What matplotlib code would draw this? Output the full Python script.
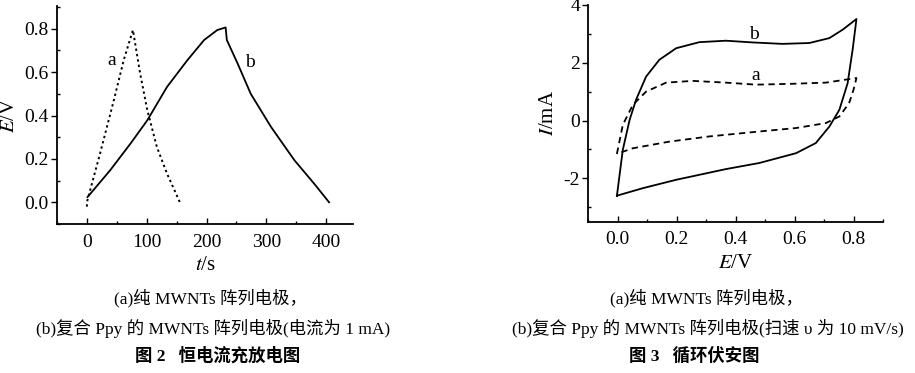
import matplotlib
matplotlib.use("Agg")
import matplotlib.pyplot as plt
from matplotlib.ticker import MultipleLocator

plt.rcParams['font.family'] = ['Liberation Serif', 'Noto Sans CJK SC']
plt.rcParams['mathtext.fontset'] = 'stix'
plt.rcParams['axes.unicode_minus'] = False

# ===== 图2 恒电流充放电 =====
t_a = [0, 0, 22, 45, 61.5, 77, 89, 101, 117, 134, 155.5]
e_a = [-0.02, 0.0, 0.225, 0.47, 0.655, 0.794, 0.594, 0.425, 0.255, 0.132, 0.0]
t_b = [1, 39, 73, 101, 134, 168, 196, 218, 232, 234, 252, 274, 308, 347, 380, 405]
e_b = [0.024, 0.148, 0.271, 0.378, 0.532, 0.655, 0.748, 0.794, 0.806, 0.748, 0.64, 0.50, 0.347, 0.194, 0.086, 0.0]

# ===== 图3 循环伏安 =====
v_b = [-0.003, 0.017, 0.04, 0.062, 0.096, 0.141, 0.198, 0.277, 0.367, 0.458, 0.559, 0.65, 0.718, 0.763, 0.81,
       0.797, 0.78, 0.752, 0.718, 0.672, 0.605, 0.48, 0.367, 0.198, 0.085, -0.003]
i_b = [-2.6, -1.01, 0.02, 0.72, 1.52, 2.10, 2.50, 2.71, 2.76, 2.70, 2.65, 2.68, 2.85, 3.14, 3.51,
       2.45, 1.29, 0.37, -0.21, -0.78, -1.13, -1.47, -1.68, -2.05, -2.34, -2.6]
v_a = [-0.003, 0.017, 0.051, 0.096, 0.164, 0.254, 0.367, 0.469, 0.593, 0.706, 0.81,
       0.80, 0.785, 0.752, 0.706, 0.605, 0.48, 0.311, 0.175, 0.051, -0.003]
i_a = [-1.15, -0.15, 0.54, 1.0, 1.31, 1.37, 1.31, 1.24, 1.27, 1.31, 1.47,
       1.06, 0.60, 0.14, -0.09, -0.26, -0.38, -0.55, -0.73, -0.96, -1.15]

captions_left = ["(a)纯 MWNTs 阵列电极，", "(b)复合 Ppy 的 MWNTs 阵列电极(电流为 1 mA)", "图 2   恒电流充放电图"]
captions_right = ["(a)纯 MWNTs 阵列电极，", "(b)复合 Ppy 的 MWNTs 阵列电极(扫速 υ 为 10 mV/s)", "图 3   循环伏安图"]

fig = plt.figure(figsize=(9.15, 3.73), dpi=100)
ax1 = fig.add_axes([0.0623, 0.3995, 0.3235, 0.5845])
ax2 = fig.add_axes([0.643, 0.4056, 0.322, 0.5814])


def style_axes(ax):
    for s in ['top', 'right']:
        ax.spines[s].set_visible(False)
    for s in ['left', 'bottom']:
        ax.spines[s].set_linewidth(1.3)
    ax.tick_params(axis='y', which='major', direction='out', length=4, width=1, labelsize=14, pad=2)
    ax.tick_params(axis='y', which='minor', direction='in', length=2.5, width=1)
    ax.tick_params(axis='x', which='major', direction='in', length=4, width=1, labelsize=14, pad=7)
    ax.tick_params(axis='x', which='minor', direction='in', length=2.5, width=1)


ax1.plot(t_a, e_a, color='black', linestyle=(0, (1.2, 1.6)), linewidth=1.4)
ax1.plot(t_b, e_b, color='black', linewidth=1.3)
ax1.text(42, 0.655, "a", fontsize=14, ha='center', va='center')
ax1.text(273, 0.643, "b", fontsize=14, ha='center', va='center')
ax1.set_xlim(-50, 445)
ax1.set_ylim(-0.1, 0.905)
ax1.xaxis.set_major_locator(MultipleLocator(100))
ax1.xaxis.set_minor_locator(MultipleLocator(50))
ax1.yaxis.set_major_locator(MultipleLocator(0.2))
ax1.yaxis.set_minor_locator(MultipleLocator(0.1))
ax1.set_xlabel("$t$/s", fontsize=15)
ax1.set_ylabel("$E$/V", fontsize=15)
style_axes(ax1)

ax2.plot(v_a, i_a, color='black', linestyle=(0, (3.5, 2.5)), linewidth=1.3)
ax2.plot(v_b, i_b, color='black', linewidth=1.3)
ax2.text(0.463, 2.97, "b", fontsize=14, ha='center', va='center')
ax2.text(0.469, 1.55, "a", fontsize=14, ha='center', va='center')
ax2.set_xlim(-0.1, 0.9)
ax2.set_ylim(-3.5, 4)
ax2.xaxis.set_major_locator(MultipleLocator(0.2))
ax2.xaxis.set_minor_locator(MultipleLocator(0.1))
ax2.yaxis.set_major_locator(MultipleLocator(2))
ax2.yaxis.set_minor_locator(MultipleLocator(1))
ax2.set_xlabel("$E$/V", fontsize=15)
ax2.set_ylabel("$I$/mA", fontsize=15)
style_axes(ax2)

# ===== 图注 =====
ys = [298, 328, 356]
xl = [210, 213, 218]
xr = [706, 708, 694]
for k, (cl, cr) in enumerate(zip(captions_left, captions_right)):
    w = 'bold' if k == 2 else 'normal'
    fig.text(xl[k] / 915, 1 - ys[k] / 373, cl, ha='center', va='center', fontsize=12.5, fontweight=w)
    fig.text(xr[k] / 915, 1 - ys[k] / 373, cr, ha='center', va='center', fontsize=12.5, fontweight=w)

fig.savefig("out.png", dpi=100)
